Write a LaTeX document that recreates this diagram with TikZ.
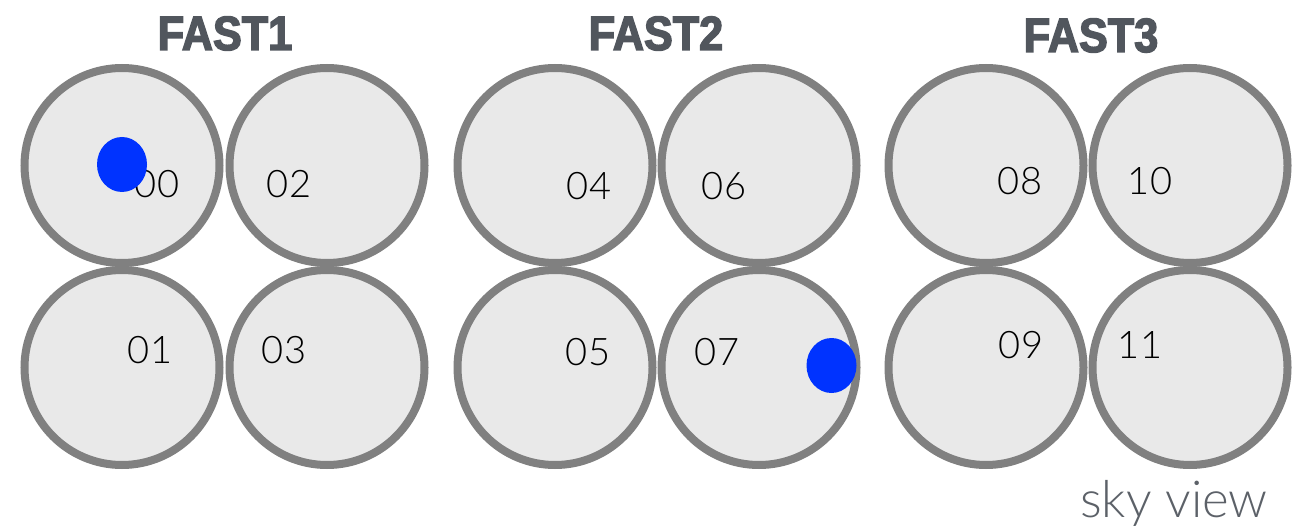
\documentclass[tikz,border=0pt]{standalone}
\usepackage{fontspec}
\setmainfont{Lato}
\newfontfamily\labelfont{Lato Light}
\newfontfamily\titlefont{Liberation Sans}[FakeStretch=0.9, BoldFeatures={FakeBold=3}]
\usetikzlibrary{shapes.geometric}

\definecolor{lensfill}{HTML}{E9E9E9}
\definecolor{ringgray}{HTML}{808080}
\definecolor{titlegray}{HTML}{51565D}
\definecolor{spotblue}{HTML}{0033FF}
\definecolor{notegray}{HTML}{5C6168}

\begin{document}
\begin{tikzpicture}[x=1pt, y=-1pt,
  lens/.style={circle, draw=ringgray, fill=lensfill, line width=8pt,
               inner sep=0pt, minimum size=195pt},
  num/.style={font=\labelfont\fontsize{38}{42}\selectfont, text=black,
              inner sep=0pt, anchor=base},
  group/.style={font=\titlefont\bfseries\fontsize{48}{52}\selectfont,
                text=titlegray, inner sep=0pt, anchor=base},
  spot/.style={ellipse, fill=spotblue, inner sep=0pt,
               minimum width=50pt, minimum height=55pt}]

\useasboundingbox (0,0) rectangle (1300,526);

% group titles
\node[group] (t1) at (225,50) {FAST1};
\node[group] (t2) at (656,50) {FAST2};
\node[group] (t3) at (1091,52) {FAST3};

% lens circles: two columns and two rows per group
\node[lens] (c00) at (122,165.5) {};
\node[lens] (c02) at (327,165.5) {};
\node[lens] (c01) at (122,367.5) {};
\node[lens] (c03) at (327,367.5) {};
\node[lens] (c04) at (555,165.5) {};
\node[lens] (c06) at (759,165.5) {};
\node[lens] (c05) at (555,367.5) {};
\node[lens] (c07) at (759,367.5) {};
\node[lens] (c08) at (986,165.5) {};
\node[lens] (c10) at (1190,165.5) {};
\node[lens] (c09) at (986,367.5) {};
\node[lens] (c11) at (1190,367.5) {};

% lens numbers
\node[num] (n00) at (157,198) {00};
\node[num] (n02) at (289,198) {02};
\node[num] (n01) at (150,363) {01};
\node[num] (n03) at (284,363) {03};
\node[num] (n04) at (589,200) {04};
\node[num] (n06) at (724,200) {06};
\node[num] (n05) at (588,365) {05};
\node[num] (n07) at (717,365) {07};
\node[num] (n08) at (1020,195) {08};
\node[num] (n10) at (1150,195) {10};
\node[num] (n09) at (1021,358) {09};
\node[num] (n11) at (1140,358) {11};

% target positions
\node[spot] (s1) at (122,164.5) {};
\node[spot] (s2) at (831.5,365.5) {};

% orientation note
\node[font=\labelfont\fontsize{51}{54}\selectfont, text=notegray,
      inner sep=0pt, anchor=base east] (note) at (1268,517) {sky view};
\end{tikzpicture}
\end{document}
